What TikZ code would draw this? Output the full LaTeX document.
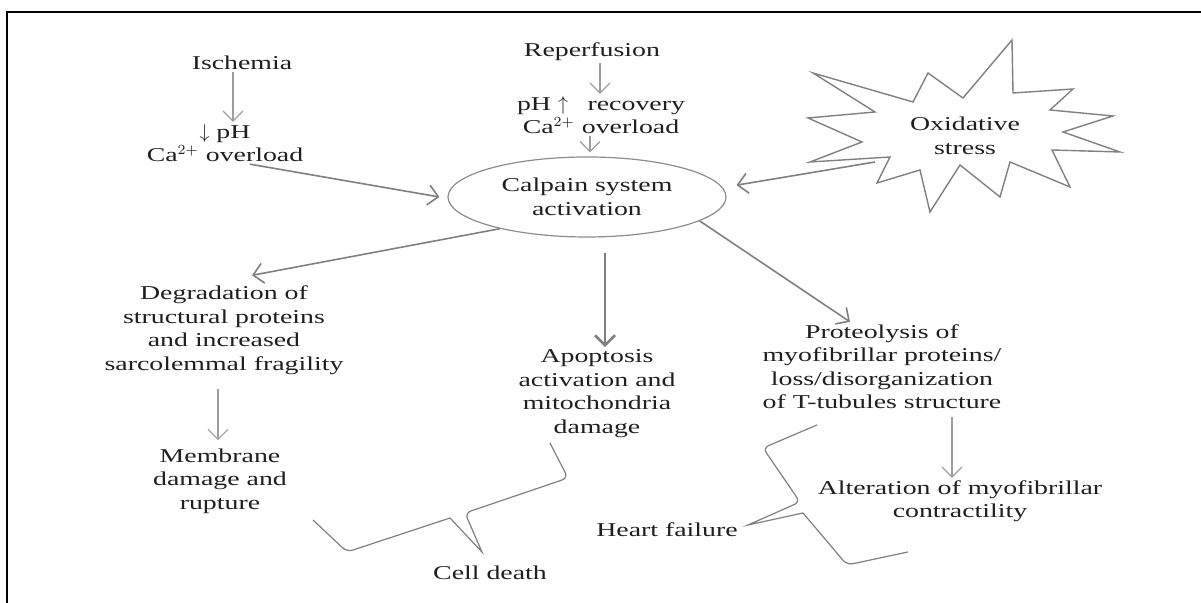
\documentclass[tikz,border=0pt]{standalone}
\usepackage{fontspec}
\setmainfont{Liberation Serif}[FakeStretch=1.42]
\usetikzlibrary{positioning,arrows.meta,shapes.geometric}

\begin{document}
\begin{tikzpicture}[x=.5pt,y=.5pt,font=\fontsize{9.8}{11.75}\selectfont,
  txt/.style={align=center,text=black!88,inner sep=1pt},
  arr/.style={draw=black!50,line width=.8pt,-{Straight Barb[length=5pt,width=10pt]}},
  thinarr/.style={arr,draw=black!38,line width=.6pt},
  fatarr/.style={arr,line width=1.4pt},
  brace/.style={draw=black!50,line width=.6pt}]
 \useasboundingbox (0,0) rectangle (1201,603);
 \draw[line width=1.2pt] (7,0)--(7,591)--(1201,591);
 % causes
 \node[txt] (isch) at (242,540) {Ischemia};
 \node[txt] (ischb) at (225,460) {$\downarrow$ pH\\Ca$^{2+}$ overload};
 \node[txt] (rep) at (592,551) {Reperfusion};
 \node[txt] (repb) at (601,488) {pH $\uparrow$\quad recovery\\Ca$^{2+}$ overload};
 \node[txt,ellipse,draw=black!45,line width=.6pt,minimum width=139pt,
   minimum height=40pt,inner sep=0pt] (calp) at (587,406)
   {Calpain system\\activation};
 \draw[brace,line width=.7pt] (813,530)--(913,501)--(928,530)--(963,505)
   --(1012,563)--(1013,510)--(1073,514)--(1050,493)--(1113,487)--(1063,471)
   --(1120,451)--(1052,453)--(1070,416)--(1010,441)--(1000,406)--(960,438)
   --(930,391)--(920,433)--(877,420)--(890,446)--(810,441)--(862,461)
   --(808,485)--(875,491)--cycle;
 \node[txt] (ox) at (965,467) {Oxidative\\stress};
 \coordinate (oxtip) at (875,441);
 % effects
 \node[txt] (degr) at (224,273)
   {Degradation of\\structural proteins\\and increased\\sarcolemmal fragility};
 \node[txt] (memb) at (220,122) {Membrane\\damage and\\rupture};
 \node[txt] (apop) at (597,209.5)
   {Apoptosis\\activation and\\mitochondria\\damage};
 \node[txt] (prot) at (882,236.5)
   {Proteolysis of\\myofibrillar proteins/\\loss/disorganization\\of T-tubules structure};
 \node[txt] (alt) at (960,102) {Alteration of myofibrillar\\contractility};
 \node[txt] (heart) at (667,73) {Heart failure};
 \node[txt] (cell) at (490,30) {Cell death};
 % arrows
 \draw[thinarr] ([xshift=-4.5pt]isch.south) -- ([xshift=4pt]ischb.north);
 \draw[thinarr] ([xshift=4pt]rep.south) -- ([xshift=-.5pt]repb.north);
 \draw[thinarr] ([xshift=-5.5pt]repb.south) -- ([xshift=1.5pt,yshift=2pt]calp.north);
 \draw[arr] ([xshift=12.5pt]ischb.south) -- ([xshift=-4pt]calp.west);
 \draw[arr,shorten >=7pt] (oxtip) -- (calp.4);
 \draw[arr] (calp.200) -- ([xshift=14pt,yshift=4pt]degr.north);
 \draw[fatarr] ([xshift=9pt,yshift=-7.5pt]calp.south) -- ([xshift=4pt]apop.north);
 \draw[arr] (calp.-12) -- ([xshift=-16pt]prot.north);
 \draw[thinarr,shorten <=6pt,shorten >=3pt] ([xshift=-3pt]degr.south)
   -- ([xshift=-1pt]memb.north);
 \draw[thinarr,shorten <=3pt] ([xshift=35pt]prot.south) -- ([xshift=-4pt]alt.north);
 % braces
 \draw[brace,rounded corners=3pt] (550,160) -- (568,125) -- (465,90)
   [sharp corners]-- (482,51) -- (450,85) [rounded corners=3pt]-- (347,51) -- (313,83);
 \draw[brace,rounded corners=3pt] (817,178) -- (763,155) -- (800,101)
   [sharp corners]-- (748,78) -- (803,90) [rounded corners=3pt]-- (847,38) -- (908,51);
\end{tikzpicture}
\end{document}
